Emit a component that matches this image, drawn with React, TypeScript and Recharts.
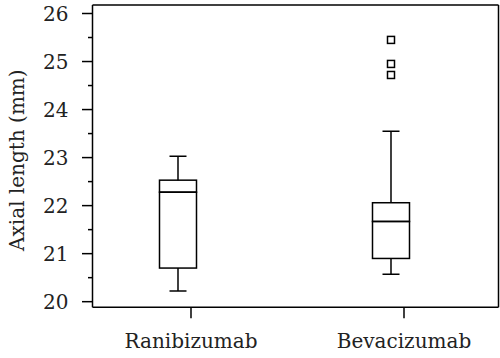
import React from 'react';
import { ComposedChart, Bar, Scatter, XAxis, YAxis, ReferenceLine } from 'recharts';

const categories = ['Ranibizumab', 'Bevacizumab'];
const mins = [20.22, 20.57];
const q1s = [20.7, 20.9];
const medians = [22.28, 21.67];
const q3s = [22.53, 22.06];
const maxs = [23.03, 23.55];
const outlierCategory = [2, 2, 2];
const outlierValues = [25.45, 24.95, 24.72];
const yTicks = [20, 20.5, 21, 21.5, 22, 22.5, 23, 23.5, 24, 24.5, 25, 25.5, 26];
const X_DOMAIN: [number, number] = [0.5986, 2.5047];
const Y_DOMAIN: [number, number] = [19.883, 26.177];

const data = categories.map((name, i) => ({
  x: i + 1,
  name,
  base: mins[i],
  lowWhisker: q1s[i] - mins[i],
  lowBox: medians[i] - q1s[i],
  highBox: q3s[i] - medians[i],
  highWhisker: maxs[i] - q3s[i],
}));

const outliers = outlierValues.map((v, i) => ({ x: outlierCategory[i], y: v }));

const FONT = '"DejaVu Serif", serif';
const SW = 1.5;
const CAP = 17;
const TICK_SHIFT = 13;

const Empty = () => null;

const LowWhisker = (props: any) => {
  const { x, y, width, height } = props;
  const cx = x + width / 2;
  return (
    <g>
      <line x1={cx} y1={y} x2={cx} y2={y + height} stroke="#000" strokeWidth={SW} />
      <line x1={cx - CAP / 2} y1={y + height} x2={cx + CAP / 2} y2={y + height} stroke="#000" strokeWidth={SW} />
    </g>
  );
};

const HighWhisker = (props: any) => {
  const { x, y, width, height } = props;
  const cx = x + width / 2;
  return (
    <g>
      <line x1={cx} y1={y} x2={cx} y2={y + height} stroke="#000" strokeWidth={SW} />
      <line x1={cx - CAP / 2} y1={y} x2={cx + CAP / 2} y2={y} stroke="#000" strokeWidth={SW} />
    </g>
  );
};

const BoxPart = (props: any) => {
  const { x, y, width, height } = props;
  return <rect x={x} y={y} width={width} height={height} fill="none" stroke="#000" strokeWidth={SW} />;
};

const Square = (props: any) => {
  const { cx, cy } = props;
  const s = 7;
  return <rect x={cx - s / 2} y={cy - s / 2} width={s} height={s} fill="#fff" stroke="#000" strokeWidth={1.5} />;
};

const YTick = (props: any) => {
  const { x, y, payload } = props;
  const v = payload.value;
  const major = Number.isInteger(v);
  return (
    <g>
      <line x1={x - (major ? 10.5 : 4.5)} y1={y} x2={x} y2={y} stroke="#000" strokeWidth={SW} />
      {major && (
        <text x={x - 24} y={y} dy="0.36em" textAnchor="end" fontFamily={FONT} fontSize={20} fill="#222">
          {v}
        </text>
      )}
    </g>
  );
};

const XTick = (props: any) => {
  const { x, y, payload } = props;
  const tx = x + TICK_SHIFT;
  const label = categories[payload.value - 1];
  return (
    <g>
      <line x1={tx} y1={y} x2={tx} y2={y + 11} stroke="#000" strokeWidth={SW} />
      <text x={tx} y={y + 41} textAnchor="middle" fontFamily={FONT} fontSize={20} fill="#222">
        {label}
      </text>
    </g>
  );
};

const YLabel = (props: any) => {
  const vb = props.viewBox || { x: 0, y: 5, width: 92.5, height: 302 };
  const cy = vb.y + vb.height / 2 + 4;
  const cx = vb.x + 24;
  return (
    <text
      transform={`translate(${cx},${cy}) rotate(-90)`}
      textAnchor="middle"
      fontFamily={FONT}
      fontSize={20}
      fill="#222"
    >
      Axial length (mm)
    </text>
  );
};

export default function App() {
  return (
    <div style={{ position: 'fixed', left: 0, top: 0, width: 500, height: 358, background: '#fff' }}>
      <ComposedChart width={500} height={358} data={data} margin={{ top: 5, right: 1.5, bottom: 0, left: 0 }}>
        <XAxis
          dataKey="x"
          type="number"
          domain={X_DOMAIN}
          ticks={[1, 2]}
          allowDataOverflow
          height={50.7}
          tickSize={0}
          tickMargin={0}
          tickLine={false}
          tick={<XTick />}
          axisLine={{ stroke: '#000', strokeWidth: SW }}
        />
        <YAxis
          type="number"
          domain={Y_DOMAIN}
          ticks={yTicks}
          allowDataOverflow
          interval={0}
          width={92.5}
          tickSize={0}
          tickMargin={0}
          tickLine={false}
          tick={<YTick />}
          axisLine={{ stroke: '#000', strokeWidth: SW }}
          label={<YLabel />}
        />
        <ReferenceLine y={Y_DOMAIN[1]} stroke="#000" strokeWidth={SW} ifOverflow="visible" />
        <ReferenceLine x={X_DOMAIN[1]} stroke="#000" strokeWidth={SW} ifOverflow="visible" />
        <Bar dataKey="base" stackId="b" barSize={37} shape={<Empty />} isAnimationActive={false} />
        <Bar dataKey="lowWhisker" stackId="b" barSize={37} shape={<LowWhisker />} isAnimationActive={false} />
        <Bar dataKey="lowBox" stackId="b" barSize={37} shape={<BoxPart />} isAnimationActive={false} />
        <Bar dataKey="highBox" stackId="b" barSize={37} shape={<BoxPart />} isAnimationActive={false} />
        <Bar dataKey="highWhisker" stackId="b" barSize={37} shape={<HighWhisker />} isAnimationActive={false} />
        <Scatter data={outliers} dataKey="y" shape={<Square />} isAnimationActive={false} />
      </ComposedChart>
    </div>
  );
}
